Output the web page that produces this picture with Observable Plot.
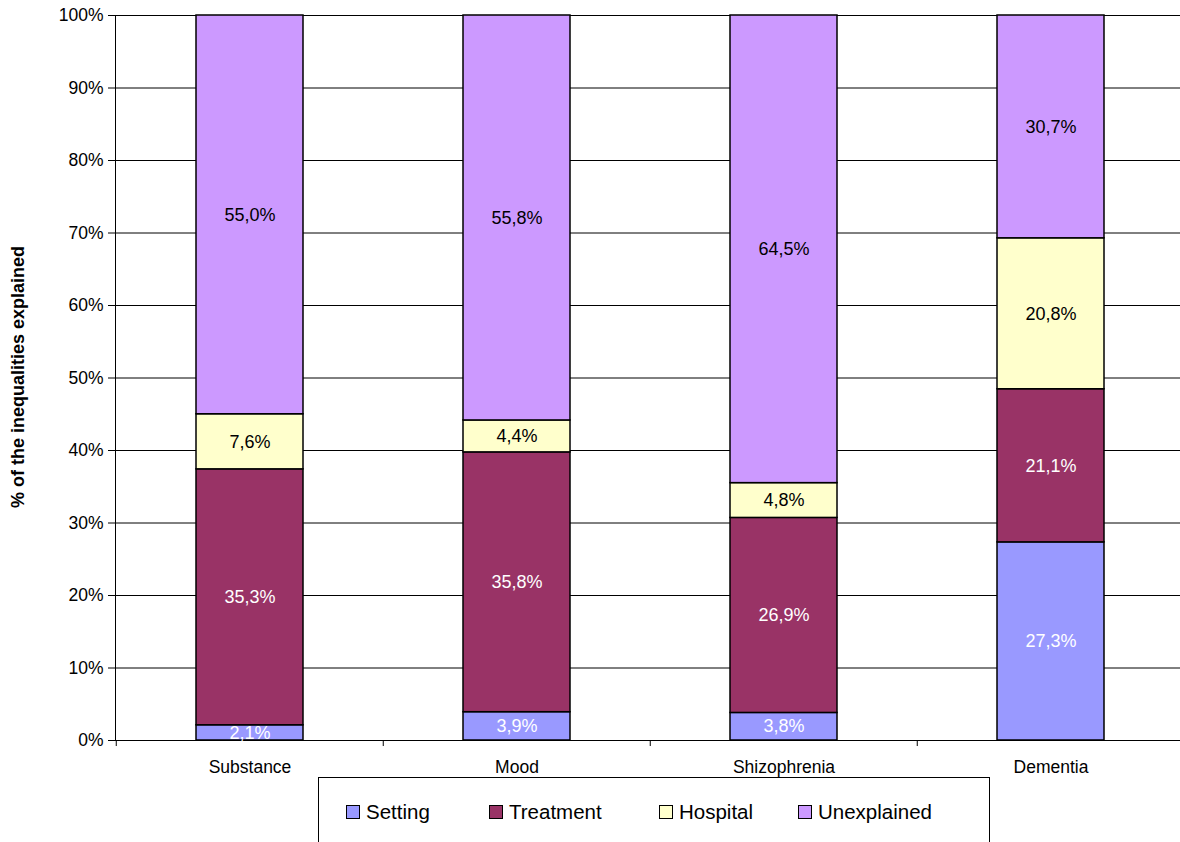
<!DOCTYPE html>
<html><head><meta charset="utf-8">
<script src="https://cdn.jsdelivr.net/npm/d3@7"></script>
<script src="https://cdn.jsdelivr.net/npm/@observablehq/plot@0.6"></script>
<style>
body{margin:0;background:#fff;font-family:"Liberation Sans",Arial,sans-serif;}
#wrap{position:relative;width:1180px;height:842px;overflow:hidden;}
#ytitle{position:absolute;left:18px;top:377px;transform:translate(-50%,-50%) rotate(-90deg);white-space:nowrap;font-weight:bold;font-size:18px;color:#000;}
#legend{position:absolute;left:318px;top:777px;width:672px;height:80px;border:1px solid #000;box-sizing:border-box;background:#fff;}
#legend .item{position:absolute;top:22px;height:24px;display:flex;align-items:center;font-size:20.5px;color:#000;white-space:nowrap;}
#legend .sw{width:12px;height:12px;border:1px solid #000;margin-right:6px;}
</style></head><body>
<div id="wrap"><div id="chart"></div><div id="ytitle">% of the inequalities explained</div><div id="legend"></div></div>
<script>
const categories = ["Substance", "Mood", "Shizophrenia", "Dementia"];
const seriesNames = ["Setting", "Treatment", "Hospital", "Unexplained"];
const setting = [2.1, 3.9, 3.8, 27.3];
const treatment = [35.3, 35.8, 26.9, 21.1];
const hospital = [7.6, 4.4, 4.8, 20.8];
const unexplained = [55.0, 55.8, 64.5, 30.7];
const colors = ["#9999FF", "#993366", "#FFFFCC", "#CC99FF"];
const yTicks = [0, 0.1, 0.2, 0.3, 0.4, 0.5, 0.6, 0.7, 0.8, 0.9, 1.0];
const legendLeft = [27, 170, 340, 479];

const seriesValues = [setting, treatment, hospital, unexplained];
const data = categories.flatMap((c, i) => seriesNames.map((s, j) => ({cat: c, series: s, value: seriesValues[j][i]})));

const W = 1180, H = 777, mL = 115, mR = -5, mT = 15, mB = 37;
const step = (W - mL - mR) / categories.length;
const fmt = v => d3.format(".1f")(v).replace(".", ",") + "%";
const whiteText = new Set(["Setting", "Treatment"]);
const stackOpts = {x: "cat", y: "value", z: "series", order: seriesNames, offset: "normalize"};
const font = "Liberation Sans, Arial, sans-serif";

const plot = Plot.plot({
  width: W, height: H, marginLeft: mL, marginRight: mR, marginTop: mT, marginBottom: mB,
  style: {fontFamily: font, fontSize: "17px", color: "#000", background: "#fff", overflow: "visible"},
  x: {domain: categories, paddingInner: 0.6, paddingOuter: 0.3, label: null},
  y: {domain: [0, 1], label: null},
  color: {domain: seriesNames, range: colors},
  marks: [
    Plot.gridY(yTicks, {stroke: "#000", strokeOpacity: 1}),
    Plot.barY(data, Plot.stackY({...stackOpts, fill: "series", stroke: "#000", strokeWidth: 1.5})),
    Plot.ruleY([0], {stroke: "#000"}),
    Plot.frame({anchor: "left", stroke: "#000"}),
    Plot.axisY(yTicks, {tickFormat: d3.format(".0%"), tickSize: 7, tickPadding: 5, label: null, fontSize: 17.5}),
    Plot.axisX({tickSize: 0, tickPadding: 20, label: null, fontSize: 17.5}),
    Plot.ruleX(categories, {x: d => d, y1: 0, y2: -0.0083, dx: -step / 2, stroke: "#000"}),
    Plot.ruleX(categories.slice(-1), {x: d => d, y1: 0, y2: -0.0083, dx: step / 2, stroke: "#000"}),
    Plot.text(data, Plot.stackY({...stackOpts, text: d => whiteText.has(d.series) ? fmt(d.value) : null, fill: "#fff", fontSize: 18})),
    Plot.text(data, Plot.stackY({...stackOpts, text: d => whiteText.has(d.series) ? null : fmt(d.value), fill: "#000", fontSize: 18, ariaLabel: "boxed-labels"}))
  ]
});
document.getElementById("chart").appendChild(plot);

// white boxes behind dark labels
const ns = "http://www.w3.org/2000/svg";
plot.querySelectorAll('g[aria-label="boxed-labels"] text').forEach(t => {
  const b = t.getBBox();
  const r = document.createElementNS(ns, "rect");
  r.setAttribute("x", b.x - 1);
  r.setAttribute("y", b.y + 1);
  r.setAttribute("width", b.width + 2);
  r.setAttribute("height", b.height);
  r.setAttribute("fill", "#fff");
  if (t.getAttribute("transform")) r.setAttribute("transform", t.getAttribute("transform"));
  t.parentNode.insertBefore(r, t);
});

const legend = document.getElementById("legend");
seriesNames.forEach((s, i) => {
  const it = document.createElement("div");
  it.className = "item";
  it.style.left = legendLeft[i] + "px";
  const sw = document.createElement("div");
  sw.className = "sw";
  sw.style.background = colors[i];
  const tx = document.createElement("span");
  tx.textContent = s;
  it.appendChild(sw); it.appendChild(tx);
  legend.appendChild(it);
});
</script>
</body></html>
